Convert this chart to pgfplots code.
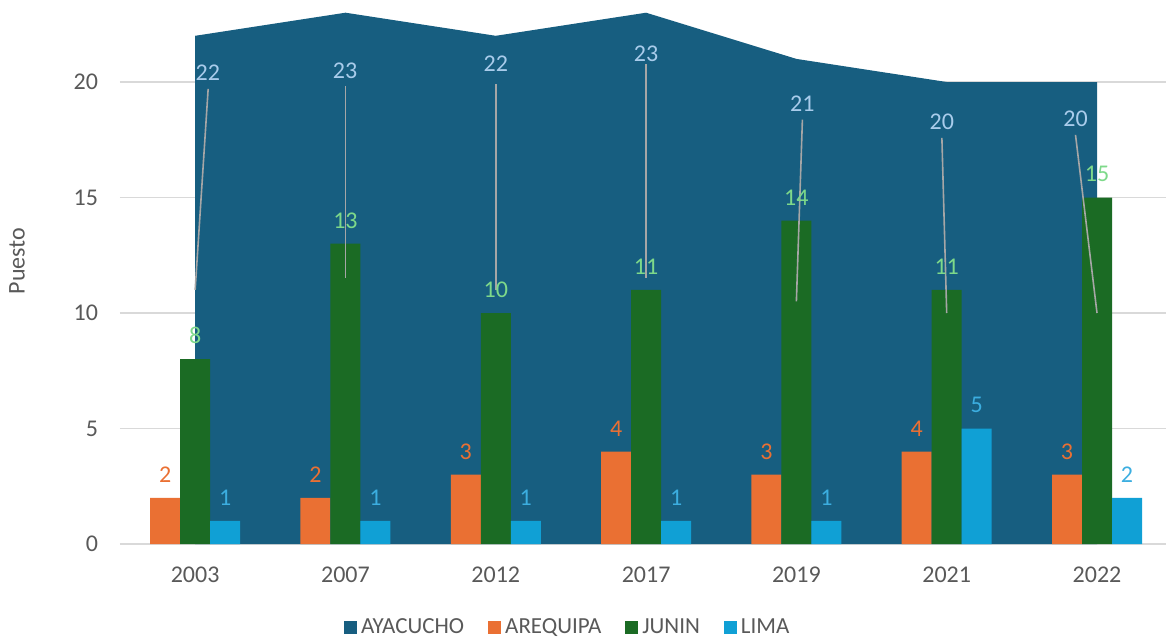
\documentclass[border=0pt]{standalone}
\usepackage{fontspec}
\setmainfont{Carlito}
\usepackage{pgfplots}
\pgfplotsset{compat=1.18}
\definecolor{ayac}{HTML}{175E80}
\definecolor{areq}{HTML}{EA7033}
\definecolor{junin}{HTML}{1B6B24}
\definecolor{lima}{HTML}{10A0D5}
\definecolor{ayaclbl}{HTML}{A9CCEB}
\definecolor{juninlbl}{HTML}{7ED98A}
\definecolor{limalbl}{HTML}{3CAEE0}
\definecolor{txt}{HTML}{595959}
\definecolor{gridc}{HTML}{D9D9D9}
\definecolor{leader}{HTML}{A6A6A6}
\pgfplotsset{sqleg/.style={legend image code/.code={\fill[##1] (0pt,-3.25pt) rectangle (6.5pt,3.25pt);}}}
\begin{document}
\begin{tikzpicture}
\useasboundingbox (-60pt,-47.5pt) rectangle (523pt,272pt);
\begin{axis}[
  scale only axis, width=523pt, height=272pt,
  xmin=-0.5, xmax=6.459, ymin=0, ymax=23.55,
  xtick={0,...,6}, xticklabels={2003,2007,2012,2017,2019,2021,2022},
  ytick={0,5,10,15,20},
  ymajorgrids, grid style={gridc, line width=0.75pt},
  axis line style={draw=none}, major tick length=0pt,
  /pgf/number format/assume math mode=true,
  tick label style={font=\fontsize{12}{14}\selectfont, text=txt},
  xticklabel style={yshift=-8pt},
  yticklabel style={xshift=-7.5pt},
  ylabel={Puesto},
  ylabel style={at={(axis description cs:-0.0985,0.52)}, anchor=center, font=\fontsize{12}{14}\selectfont, text=txt},
  legend style={at={(0.429,-0.154)}, anchor=center, draw=none, fill=none, legend columns=-1,
    font=\fontsize{11.5}{13}\selectfont, text=txt,
    /tikz/every even column/.append style={column sep=10pt}},
  clip=false,
]
\addplot[fill=ayac, draw=none, sqleg] coordinates {(0,22) (1,23) (2,22) (3,23) (4,21) (5,20) (6,20)} \closedcycle;
\addlegendentry{AYACUCHO}
\addplot[ybar, bar width=15pt, bar shift=-15pt, fill=areq, draw=none, sqleg,
  nodes near coords, nodes near coords style={font=\fontsize{12}{14}\selectfont, text=areq, anchor=south, inner sep=0pt, yshift=7.5pt, xshift=-15pt}]
  coordinates {(0,2) (1,2) (2,3) (3,4) (4,3) (5,4) (6,3)};
\addlegendentry{AREQUIPA}
\addplot[ybar, bar width=15pt, bar shift=0pt, fill=junin, draw=none, sqleg,
  nodes near coords, nodes near coords style={font=\fontsize{12}{14}\selectfont, text=juninlbl, anchor=south, inner sep=0pt, yshift=7.5pt}]
  coordinates {(0,8) (1,13) (2,10) (3,11) (4,14) (5,11) (6,15)};
\addlegendentry{JUNIN}
\addplot[ybar, bar width=15pt, bar shift=15pt, fill=lima, draw=none, sqleg,
  nodes near coords, nodes near coords style={font=\fontsize{12}{14}\selectfont, text=limalbl, anchor=south, inner sep=0pt, yshift=7.5pt, xshift=15pt}]
  coordinates {(0,1) (1,1) (2,1) (3,1) (4,1) (5,5) (6,2)};
\addlegendentry{LIMA}
% leader lines and labels for AYACUCHO
\draw[leader, line width=0.8pt] (axis cs:0.0865,19.70) -- (axis cs:0,11);
\draw[leader, line width=0.8pt] (axis cs:1,19.83) -- (axis cs:1,11.5);
\draw[leader, line width=0.8pt] (axis cs:2,19.91) -- (axis cs:2,11);
\draw[leader, line width=0.8pt] (axis cs:3,20.77) -- (axis cs:3,11.5);
\draw[leader, line width=0.8pt] (axis cs:4.04,18.37) -- (axis cs:4,10.5);
\draw[leader, line width=0.8pt] (axis cs:4.968,17.58) -- (axis cs:5,10);
\draw[leader, line width=0.8pt] (axis cs:5.857,17.71) -- (axis cs:6,10);
\begin{scope}[every node/.style={font=\fontsize{12}{14}\selectfont, text=ayaclbl}]
\node at (axis cs:0.0845,20.42) {22};
\node at (axis cs:0.998,20.48) {23};
\node at (axis cs:2.0,20.81) {22};
\node at (axis cs:3.0,21.21) {23};
\node at (axis cs:4.04,19.08) {21};
\node at (axis cs:4.968,18.28) {20};
\node at (axis cs:5.857,18.40) {20};
\end{scope}
\end{axis}
\end{tikzpicture}
\end{document}
